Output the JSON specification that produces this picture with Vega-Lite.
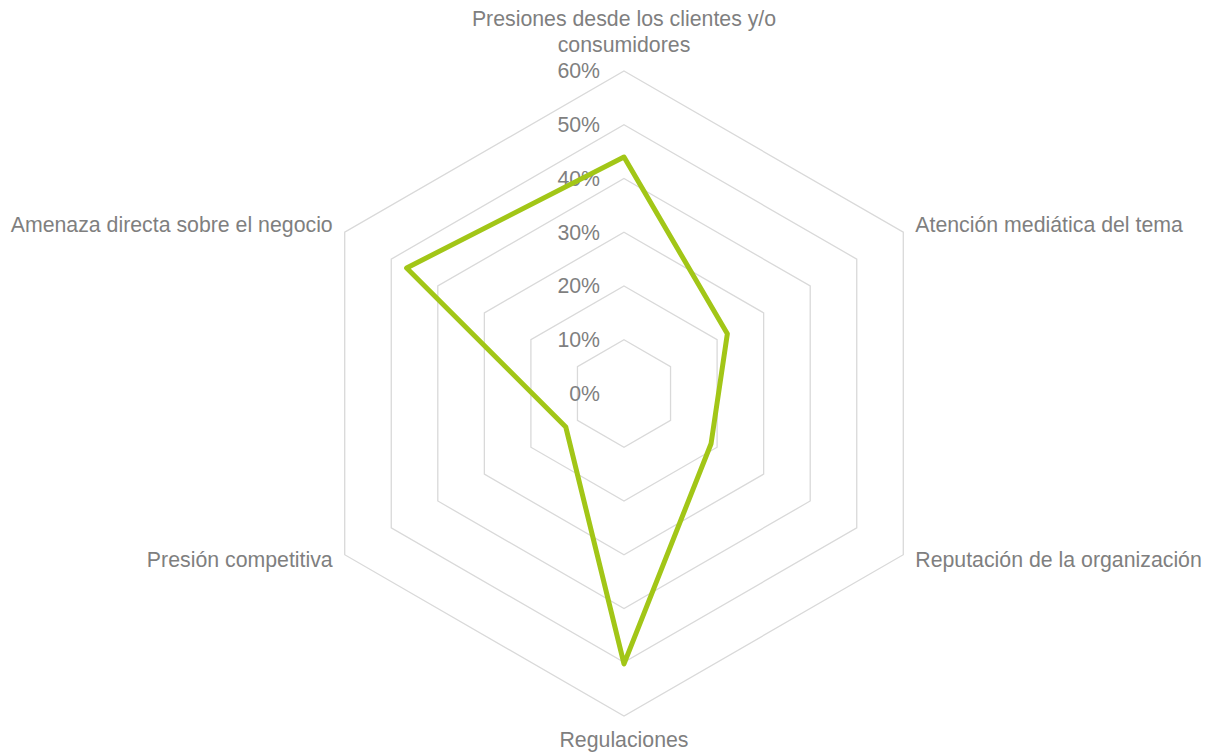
{
  "$schema": "https://vega.github.io/schema/vega-lite/v6.json",
  "width": 1205,
  "height": 752,
  "padding": 0,
  "autosize": "none",
  "background": "white",
  "config": {
    "view": {"stroke": null},
    "text": {"font": "Liberation Sans", "fontSize": 21.3, "color": "#7F7F7F"}
  },
  "datasets": {
    "drivers": [
      {"k": 0, "cat": "Presiones desde los clientes y/o\nconsumidores", "v": 0.44},
      {"k": 1, "cat": "Atención mediática del tema", "v": 0.222},
      {"k": 2, "cat": "Reputación de la organización", "v": 0.187},
      {"k": 3, "cat": "Regulaciones", "v": 0.503},
      {"k": 4, "cat": "Presión competitiva", "v": 0.125},
      {"k": 5, "cat": "Amenaza directa sobre el negocio", "v": 0.467}
    ],
    "rings": [
      {"level": 0.1, "vertex": [0, 1, 2, 3, 4, 5]},
      {"level": 0.2, "vertex": [0, 1, 2, 3, 4, 5]},
      {"level": 0.3, "vertex": [0, 1, 2, 3, 4, 5]},
      {"level": 0.4, "vertex": [0, 1, 2, 3, 4, 5]},
      {"level": 0.5, "vertex": [0, 1, 2, 3, 4, 5]},
      {"level": 0.6, "vertex": [0, 1, 2, 3, 4, 5]}
    ],
    "ticks": [
      {"level": 0}, {"level": 0.1}, {"level": 0.2}, {"level": 0.3},
      {"level": 0.4}, {"level": 0.5}, {"level": 0.6}
    ]
  },
  "encoding": {
    "x": {"field": "px", "type": "quantitative", "axis": null,
          "scale": {"domain": [-1.16093, 1.08093], "nice": false, "zero": false}},
    "y": {"field": "py", "type": "quantitative", "axis": null,
          "scale": {"domain": [-0.66698, 0.73209], "nice": false, "zero": false}}
  },
  "layer": [
    {
      "data": {"name": "rings"},
      "transform": [
        {"flatten": ["vertex"]},
        {"calculate": "datum.level*sin(datum.vertex*PI/3)", "as": "px"},
        {"calculate": "datum.level*cos(datum.vertex*PI/3)", "as": "py"}
      ],
      "mark": {"type": "line", "interpolate": "linear-closed", "color": "#D9D9D9", "strokeWidth": 1.3},
      "encoding": {
        "detail": {"field": "level", "type": "nominal"},
        "order": {"field": "vertex", "type": "quantitative"}
      }
    },
    {
      "data": {"name": "ticks"},
      "transform": [
        {"calculate": "0", "as": "px"},
        {"calculate": "datum.level", "as": "py"}
      ],
      "mark": {"type": "text", "align": "right", "baseline": "alphabetic", "dx": -24, "dy": 7.5},
      "encoding": {"text": {"field": "level", "type": "quantitative", "format": ".0%"}}
    },
    {
      "data": {"name": "drivers"},
      "transform": [
        {"calculate": "datum.v*sin(datum.k*PI/3)", "as": "px"},
        {"calculate": "datum.v*cos(datum.k*PI/3)", "as": "py"}
      ],
      "mark": {"type": "line", "interpolate": "linear-closed", "color": "#A2C617", "strokeWidth": 5, "strokeJoin": "round"},
      "encoding": {"order": {"field": "k", "type": "quantitative"}}
    },
    {
      "data": {"name": "drivers"},
      "transform": [
        {"filter": "datum.k == 0"},
        {"calculate": "0", "as": "px"},
        {"calculate": "0.6", "as": "py"}
      ],
      "mark": {"type": "text", "align": "center", "baseline": "alphabetic", "dy": -45, "lineBreak": "\n", "lineHeight": 25.7},
      "encoding": {"text": {"field": "cat", "type": "nominal"}}
    },
    {
      "data": {"name": "drivers"},
      "transform": [
        {"filter": "datum.k == 1"},
        {"calculate": "0.6*sin(datum.k*PI/3)", "as": "px"},
        {"calculate": "0.6*cos(datum.k*PI/3)", "as": "py"}
      ],
      "mark": {"type": "text", "align": "left", "baseline": "alphabetic", "dx": 12, "dy": 0},
      "encoding": {"text": {"field": "cat", "type": "nominal"}}
    },
    {
      "data": {"name": "drivers"},
      "transform": [
        {"filter": "datum.k == 2"},
        {"calculate": "0.6*sin(datum.k*PI/3)", "as": "px"},
        {"calculate": "0.6*cos(datum.k*PI/3)", "as": "py"}
      ],
      "mark": {"type": "text", "align": "left", "baseline": "alphabetic", "dx": 12, "dy": 12.5},
      "encoding": {"text": {"field": "cat", "type": "nominal"}}
    },
    {
      "data": {"name": "drivers"},
      "transform": [
        {"filter": "datum.k == 3"},
        {"calculate": "0", "as": "px"},
        {"calculate": "-0.6", "as": "py"}
      ],
      "mark": {"type": "text", "align": "center", "baseline": "alphabetic", "dy": 31.5},
      "encoding": {"text": {"field": "cat", "type": "nominal"}}
    },
    {
      "data": {"name": "drivers"},
      "transform": [
        {"filter": "datum.k == 4"},
        {"calculate": "0.6*sin(datum.k*PI/3)", "as": "px"},
        {"calculate": "0.6*cos(datum.k*PI/3)", "as": "py"}
      ],
      "mark": {"type": "text", "align": "right", "baseline": "alphabetic", "dx": -12, "dy": 12.5},
      "encoding": {"text": {"field": "cat", "type": "nominal"}}
    },
    {
      "data": {"name": "drivers"},
      "transform": [
        {"filter": "datum.k == 5"},
        {"calculate": "0.6*sin(datum.k*PI/3)", "as": "px"},
        {"calculate": "0.6*cos(datum.k*PI/3)", "as": "py"}
      ],
      "mark": {"type": "text", "align": "right", "baseline": "alphabetic", "dx": -12, "dy": 0},
      "encoding": {"text": {"field": "cat", "type": "nominal"}}
    }
  ]
}
